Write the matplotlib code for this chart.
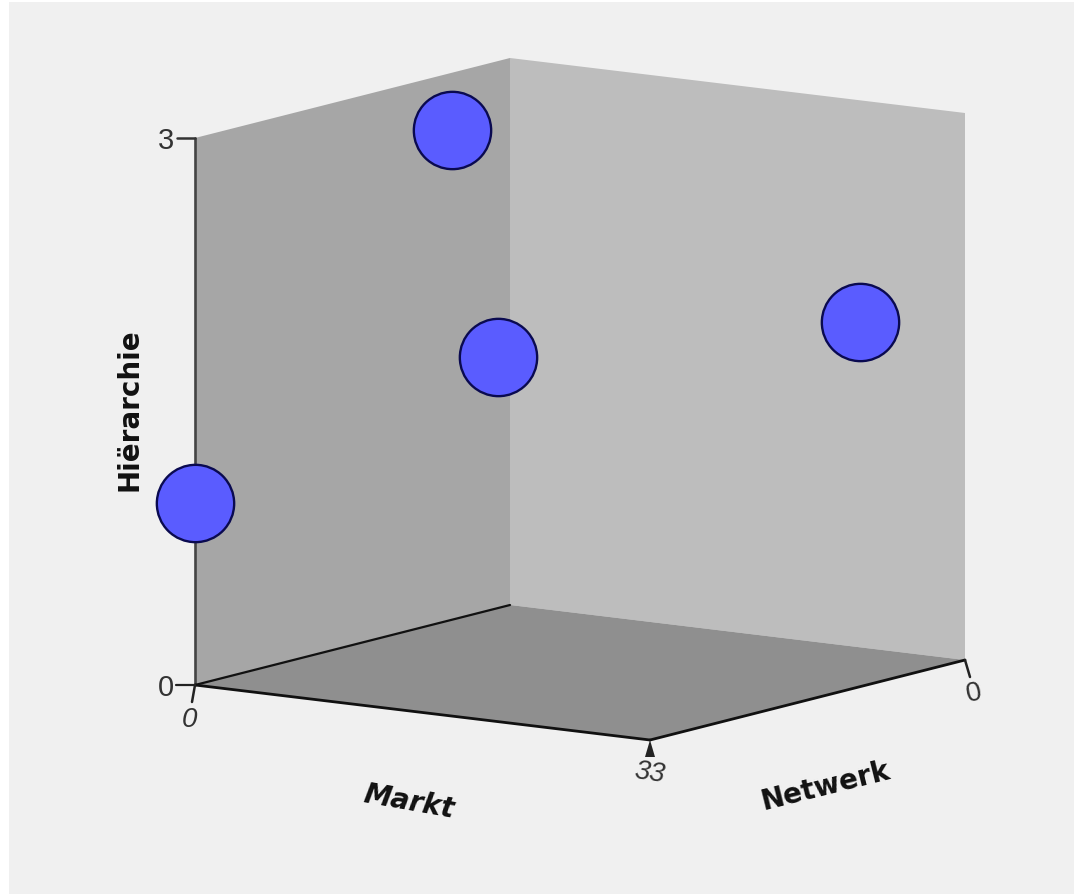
import matplotlib
matplotlib.use("Agg")
import matplotlib.pyplot as plt
from matplotlib.patches import Polygon, Rectangle

# Data
markt = [11, 22, 33, 0]
netwerk = [22, 33, 11, 33]
hierarchie = [3, 2, 2, 1]
markt_range = (0, 33)
netwerk_range = (0, 33)
hier_range = (0, 3)
x_label = "Markt"
y_label = "Netwerk"
z_label = "Hiërarchie"

W, H = 1074, 895
ORIGIN = (510.0, 606.0)
MV = (455.0, 55.0)
NV = (-315.0, 80.0)
ZV = (0.0, -547.0)


def proj(m, n, h):
    a = m / markt_range[1]
    b = n / netwerk_range[1]
    c = h / hier_range[1]
    return (ORIGIN[0] + a * MV[0] + b * NV[0] + c * ZV[0],
            ORIGIN[1] + a * MV[1] + b * NV[1] + c * ZV[1])


fig = plt.figure(figsize=(W / 100, H / 100), dpi=100, facecolor="white")
ax = fig.add_axes([0, 0, 1, 1])
ax.set_xlim(0, W)
ax.set_ylim(H, 0)
ax.axis("off")
ax.add_patch(Rectangle((9, 3), W - 9, H - 3, fc="#f0f0f0", ec="none", zorder=0))

M1, N1, Z1 = markt_range[1], netwerk_range[1], hier_range[1]
ax.add_patch(Polygon([proj(0, 0, 0), proj(0, N1, 0), proj(0, N1, Z1), proj(0, 0, Z1)],
                     fc="#a6a6a6", ec="none", zorder=1))
ax.add_patch(Polygon([proj(0, 0, 0), proj(M1, 0, 0), proj(M1, 0, Z1), proj(0, 0, Z1)],
                     fc="#bdbdbd", ec="none", zorder=1))
ax.add_patch(Polygon([proj(0, 0, 0), proj(M1, 0, 0), proj(M1, N1, 0), proj(0, N1, 0)],
                     fc="#8f8f8f", ec="none", zorder=2))


def seg(p, q, lw=1.5, color="#111111"):
    ax.plot([p[0], q[0]], [p[1], q[1]], color=color, lw=lw, solid_capstyle="round", zorder=3)


seg(proj(0, N1, 0), proj(0, N1, Z1), color="#444444", lw=1.9)
seg(proj(0, N1, 0), proj(0, 0, 0), lw=1.6)
seg(proj(0, N1, 0), proj(M1, N1, 0), lw=2.0)
seg(proj(M1, N1, 0), proj(M1, 0, 0), lw=2.0)

# ticks
o = proj(0, N1, 0)
t3 = proj(0, N1, Z1)
seg((o[0] - 19, o[1]), o, color="#222222", lw=1.6)
seg((t3[0] - 18, t3[1]), t3, color="#333333", lw=1.8)
seg(o, (o[0] - 3, o[1] + 17), color="#222222", lw=1.8)
c = proj(M1, N1, 0)
ax.add_patch(Polygon([(c[0], c[1]), (c[0] - 5, c[1] + 17), (c[0] + 5, c[1] + 17)],
                     fc="#222222", ec="none", zorder=3))
r = proj(M1, 0, 0)
seg(r, (r[0] + 5, r[1] + 17), color="#222222", lw=1.8)

tk = dict(family="Liberation Sans", color="#333333", ha="center", va="center", zorder=4)
ax.text(166, 141, str(hier_range[1]), fontsize=21, **tk)
ax.text(166, 688, str(hier_range[0]), fontsize=21, **tk)
ax.text(189, 720, str(markt_range[0]), fontsize=20, style="italic", **tk)
ax.text(650, 773, str(markt_range[1]), fontsize=20, style="italic", rotation=-8, **tk)
ax.text(974, 694, str(netwerk_range[0]), fontsize=20, rotation=12, **tk)

lb = dict(family="DejaVu Sans", weight="bold", color="#111111", ha="center", va="center", zorder=4)
ax.text(409, 802, x_label, fontsize=20, rotation=-10, style="italic", **lb)
ax.text(826, 786, y_label, fontsize=20, rotation=14, **lb)
ax.text(130, 410, z_label, fontsize=20, rotation=90, **lb)

pts = [proj(m, n, h) for m, n, h in zip(markt, netwerk, hierarchie)]
ax.scatter([p[0] for p in pts], [p[1] for p in pts], s=3100, c="#5a5cff",
           edgecolors="#0a0a50", linewidths=1.7, zorder=5, clip_on=False)

fig.savefig("out.png", dpi=100)
